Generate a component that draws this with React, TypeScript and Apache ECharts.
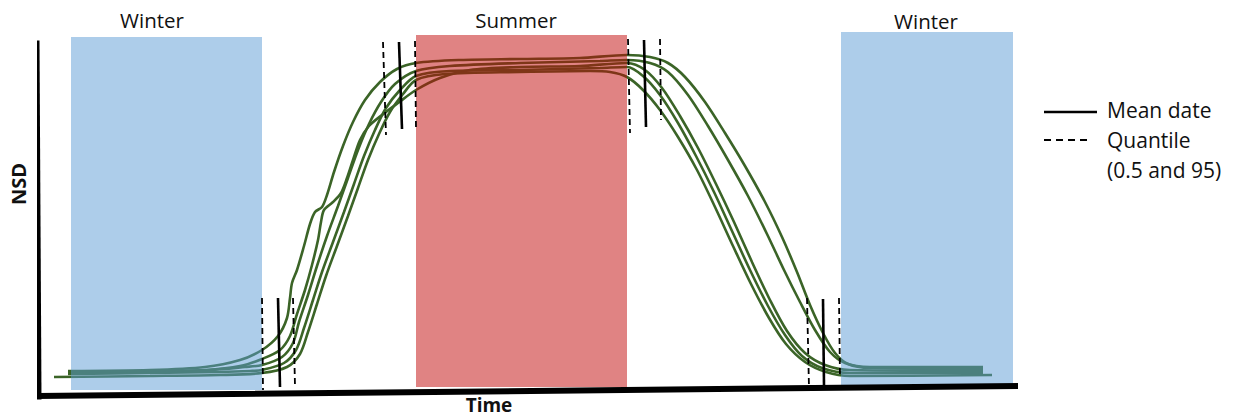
import React, { useEffect, useRef } from "react";
import * as echarts from "echarts";

// ---- Data (time units on x, NSD units on y) ----
const TIME_MAX = 975;
const NSD_MAX = 360;

const curve1: [number, number][] = [
  [28, 19], [110, 20], [165, 23], [200, 30], [222, 40], [238, 54], [247, 72], [250, 92], [252, 107], [257, 120],
  [264, 144], [270, 166], [275, 178], [282, 183], [287, 195], [294, 218], [303, 244], [313, 268], [325, 290],
  [340, 308], [357, 321], [376, 327], [420, 330], [480, 331], [540, 332], [587, 335],
  [610, 333], [628, 327], [645, 313], [665, 288], [685, 257], [705, 224], [725, 188], [742, 153], [757, 118],
  [770, 85], [783, 57], [795, 37], [808, 26], [830, 22], [943, 21],
];
const curve2: [number, number][] = [
  [28, 17], [110, 18], [165, 20], [200, 24], [222, 31], [240, 40], [250, 54], [257, 76], [265, 100], [272, 125],
  [278, 150], [281, 168], [284, 180], [293, 188], [301, 197], [307, 212], [313, 230], [320, 250], [329, 264],
  [342, 275], [358, 287], [376, 300], [400, 312], [430, 320], [480, 323], [540, 324], [587, 327],
  [605, 320], [622, 302], [640, 274], [658, 242], [676, 206], [694, 168], [712, 128], [730, 90], [747, 59],
  [765, 37], [785, 25], [810, 20], [943, 19],
];
const curve3: [number, number][] = [
  [28, 18], [110, 19], [170, 20], [205, 23], [222, 25], [242, 33], [253, 47], [259, 68], [268, 95], [277, 124],
  [287, 154], [298, 184], [308, 212], [318, 240], [329, 266], [341, 288], [355, 306], [376, 319], [410, 324],
  [480, 327], [560, 329], [587, 330],
  [610, 327], [628, 318], [648, 295], [668, 264], [688, 230], [708, 194], [727, 156], [744, 120], [760, 88],
  [775, 60], [790, 38], [805, 27], [830, 23], [943, 23],
];
const curve4: [number, number][] = [
  [28, 16], [110, 17], [180, 18], [210, 19], [222, 20], [244, 27], [256, 40], [264, 62], [273, 90], [282, 118],
  [293, 148], [304, 178], [314, 206], [324, 234], [335, 260], [346, 282], [360, 300], [376, 314], [410, 319],
  [480, 320], [560, 322], [587, 323],
  [603, 314], [620, 295], [638, 267], [656, 234], [674, 198], [692, 159], [710, 120], [728, 84], [745, 55],
  [762, 34], [782, 22], [810, 17], [943, 17],
];
const curve5: [number, number][] = [
  [14, 13], [110, 14], [180, 15], [222, 17], [247, 23], [260, 36], [268, 58], [277, 86], [286, 114], [297, 144],
  [308, 174], [318, 202], [328, 230], [339, 256], [350, 278], [363, 296], [376, 310], [405, 316], [480, 318],
  [550, 319], [570, 318], [587, 313],
  [603, 300], [620, 280], [638, 253], [657, 220], [675, 183], [693, 144], [711, 106], [729, 72], [746, 46],
  [765, 28], [786, 18], [810, 14], [952, 15],
];
const curves = [curve1, curve2, curve3, curve4, curve5];

// Season bands: [start, end, bottom, top]
const seasonNames = ["Winter", "Summer", "Winter"];
const seasonStart = [31, 376, 801];
const seasonEnd = [222, 587, 973];
const seasonBottom = [0, 3, 5];
const seasonTop = [353, 355, 358];
const seasonColors = ["rgba(91,155,213,0.5)", "rgba(193,8,8,0.5)", "rgba(91,155,213,0.5)"];

// Mean date marks and quantile (0.5 and 95) marks
const meanDates: [number, number][][] = [
  [[238, 92], [240, 3]],
  [[359, 348], [362, 261]],
  [[604, 350], [606, 263]],
  [[783, 91], [784, 4]],
];
const quantiles: [number, number][][] = [
  [[222, 92], [223, 0]],
  [[253, 92], [255, 4]],
  [[343, 348], [346, 255]],
  [[375, 349], [376, 261]],
  [[588, 351], [590, 257]],
  [[620, 351], [621, 270]],
  [[767, 92], [769, 2]],
  [[799, 92], [800, 12]],
];

// Hand-drawn axes
const yAxisStroke: [number, number][] = [[-3, 347], [-1, -7]];
const xAxisStroke: [number, number][] = [[-5, -6], [977, 4]];

const FONT = "Open Sans";

export default function App() {
  const ref = useRef<HTMLDivElement>(null);
  useEffect(() => {
    if (!ref.current) return;
    const chart = echarts.init(ref.current, null, { renderer: "svg" });

    const series: any[] = [];
    curves.forEach((c, i) => {
      series.push({
        name: "Curve " + (i + 1),
        type: "line",
        data: c,
        smooth: 0.3,
        symbol: "none",
        clip: false,
        silent: true,
        z: 2,
        lineStyle: { color: "#3b6427", width: 2.6 },
      });
    });
    series.push({
      name: "Seasons",
      type: "custom",
      z: 3,
      clip: false,
      silent: true,
      data: seasonNames.map((n, i) => [seasonStart[i], seasonEnd[i], seasonBottom[i], seasonTop[i], i]),
      renderItem: (params: any, api: any) => {
        const p0 = api.coord([api.value(0), api.value(2)]);
        const p1 = api.coord([api.value(1), api.value(3)]);
        return {
          type: "rect",
          shape: { x: p0[0], y: p1[1], width: p1[0] - p0[0], height: p0[1] - p1[1] },
          style: { fill: seasonColors[api.value(4)] },
        };
      },
    });
    meanDates.forEach((m) => {
      series.push({
        name: "Mean date",
        type: "line",
        data: m,
        symbol: "none",
        clip: false,
        silent: true,
        z: 4,
        lineStyle: { color: "#000", width: 2.6 },
      });
    });
    quantiles.forEach((q) => {
      series.push({
        name: "Quantile",
        type: "line",
        data: q,
        symbol: "none",
        clip: false,
        silent: true,
        z: 4,
        lineStyle: { color: "#000", width: 1.8, type: [6, 4] },
      });
    });
    [yAxisStroke, xAxisStroke].forEach((a, i) => {
      series.push({
        name: i === 0 ? "NSD axis" : "Time axis",
        type: "line",
        data: a,
        symbol: "none",
        clip: false,
        silent: true,
        z: 5,
        lineStyle: { color: "#000", width: i === 0 ? 5 : 6, cap: "square" },
      });
    });

    const txt = (text: string, x: number, y: number, extra: any = {}) => ({
      type: "text",
      x,
      y,
      silent: true,
      style: {
        text,
        fill: "#111",
        font: `20px "${FONT}"`,
        align: "left",
        verticalAlign: "middle",
        ...extra,
      },
    });
    const legendFont = `21px "${FONT}"`;

    chart.setOption({
      animation: false,
      backgroundColor: "#fff",
      grid: { left: 40, top: 30, width: 975, height: 360, containLabel: false },
      xAxis: { type: "value", min: 0, max: TIME_MAX, show: false },
      yAxis: { type: "value", min: 0, max: NSD_MAX, show: false },
      series,
      graphic: [
        txt("Winter", 152, 20, { align: "center", font: `20.5px "${FONT}"` }),
        txt("Summer", 516, 20, { align: "center", font: `20.5px "${FONT}"` }),
        txt("Winter", 926, 21, { align: "center", font: `20.5px "${FONT}"` }),
        txt("Time", 489, 405, { align: "center", font: `bold 19px "${FONT}"` }),
        {
          type: "text",
          x: 18,
          y: 184,
          rotation: Math.PI / 2,
          silent: true,
          style: {
            text: "NSD",
            fill: "#111",
            font: `bold 20px "${FONT}"`,
            align: "center",
            verticalAlign: "middle",
          },
        },
        {
          type: "line",
          silent: true,
          shape: { x1: 1044, y1: 112, x2: 1097, y2: 112 },
          style: { stroke: "#000", lineWidth: 2.5 },
        },
        {
          type: "line",
          silent: true,
          shape: { x1: 1044, y1: 140, x2: 1091, y2: 140 },
          style: { stroke: "#000", lineWidth: 1.8, lineDash: [7, 5] },
        },
        txt("Mean date", 1107, 110, { font: legendFont }),
        txt("Quantile", 1107, 140, { font: legendFont }),
        txt("(0.5 and 95)", 1107, 170, { font: legendFont }),
      ],
    });
    return () => chart.dispose();
  }, []);
  return (
    <div
      ref={ref}
      style={{ position: "absolute", left: 0, top: 0, width: 1234, height: 419, background: "#fff" }}
    />
  );
}
